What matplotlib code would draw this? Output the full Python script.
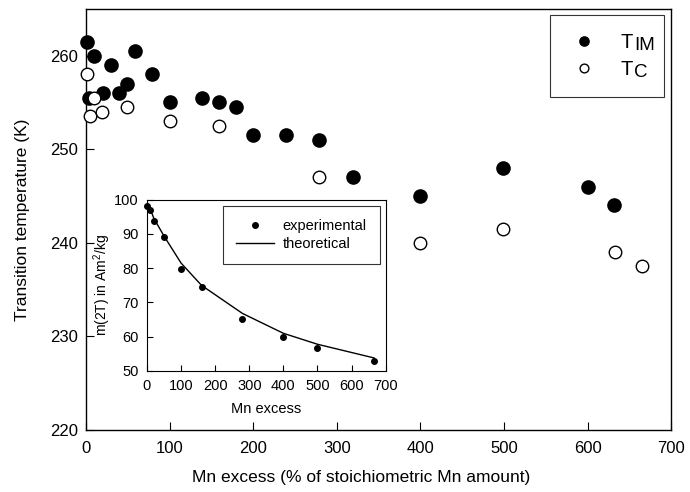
import matplotlib
matplotlib.use("Agg")
import matplotlib.pyplot as plt

plt.rcParams['font.family'] = ['Liberation Sans', 'DejaVu Sans']
plt.rcParams['mathtext.fontset'] = 'custom'
plt.rcParams['mathtext.rm'] = 'Liberation Sans'

# main panel data
tim_x = [1, 3.6, 10, 20, 30, 40, 49, 59, 79, 100, 139, 159, 179, 200, 239, 279, 319, 400, 499, 600, 632]
tim_y = [261.5, 255.5, 260.0, 256.0, 259.0, 256.0, 257.0, 260.5, 258.0, 255.0, 255.5, 255.0, 254.5,
         251.5, 251.5, 251.0, 247.0, 245.0, 248.0, 246.0, 244.0]
tc_x = [1, 4.4, 9.6, 19.5, 49, 100, 159, 279, 400, 499, 633, 665]
tc_y = [258.0, 253.5, 255.5, 254.0, 254.5, 253.0, 252.5, 247.0, 240.0, 241.5, 239.0, 237.5]
subscripts = ['IM', 'C']

# inset data
exp_x = [1, 10, 20, 50, 100, 160, 280, 400, 500, 666]
exp_y = [98.3, 97.1, 93.8, 89.0, 79.8, 74.5, 65.2, 59.9, 56.6, 52.8]
th_x = [0, 10, 20, 50, 100, 160, 280, 400, 500, 666]
th_y = [99.3, 97.2, 94.6, 89.4, 81.5, 75.0, 66.8, 61.0, 57.8, 53.8]

fig = plt.figure(figsize=(6.9, 4.92), dpi=100)
ax = fig.add_axes([0.1246, 0.126, 0.848, 0.856])

ax.plot(tim_x, tim_y, 'o', color='black', markersize=9.5, label='T', clip_on=False, zorder=3)
ax.plot(tc_x, tc_y, 'o', markerfacecolor='white', markeredgecolor='black', markeredgewidth=1.0,
        markersize=9, label='T', clip_on=False, zorder=3)

ax.set_xlim(0, 700)
ax.set_ylim(220, 265)
ax.set_xticks(range(0, 701, 100))
ax.set_yticks([220, 230, 240, 250, 260])
ax.tick_params(direction='in', labelsize=12, length=6, top=False, right=False)
ax.tick_params(axis='x', pad=8)
ax.tick_params(axis='y', pad=6)
ax.set_xlabel('Mn excess (% of stoichiometric Mn amount)', fontsize=12.5, labelpad=6)
ax.xaxis.set_label_coords(0.47, -0.095)
ax.set_ylabel('Transition temperature (K)', fontsize=12.5, labelpad=14)
for s in ax.spines.values():
    s.set_linewidth(1.0)

# legend box stretched to the reference width; subscripts added after drawing
leg = ax.legend(loc='upper left', bbox_to_anchor=(0.793, 0.5, 0.195, 0.486), mode='expand',
                fontsize=14.5, markerscale=0.7, frameon=True, fancybox=False,
                edgecolor='black', borderaxespad=0, handletextpad=1.0, labelspacing=0.4,
                borderpad=0.9, handlelength=1.6)
leg.get_frame().set_linewidth(0.8)

# inset
ins = fig.add_axes([0.213, 0.246, 0.346, 0.348])
ins.plot(th_x, th_y, '-', color='black', linewidth=1.0, label='theoretical')
ins.plot(exp_x, exp_y, 'o', color='black', markersize=4, label='experimental', clip_on=False)
ins.set_xlim(0, 700)
ins.set_ylim(50, 100)
ins.set_xticks(range(0, 701, 100))
ins.set_yticks(range(50, 101, 10))
ins.tick_params(direction='in', labelsize=10.5, length=4, pad=6)
ins.set_xlabel('Mn excess', fontsize=10.5, labelpad=6)
ins.set_ylabel('m(2T) in Am$^{2}$/kg', fontsize=10, labelpad=1)
h, l = ins.get_legend_handles_labels()
leg2 = ins.legend(h[::-1], l[::-1], loc='upper right', fontsize=10.5, frameon=True, fancybox=False,
                  edgecolor='black', handlelength=2.6, handletextpad=0.6, borderpad=0.9,
                  labelspacing=0.3, borderaxespad=0.4)
leg2.get_frame().set_linewidth(0.8)

fig.canvas.draw()
W, H = fig.canvas.get_width_height()
r = fig.canvas.get_renderer()
for t, sub in zip(leg.get_texts(), subscripts):
    bb = t.get_window_extent(renderer=r)
    fig.text((bb.x1 + 1) / W, (bb.y0 - 2) / H, sub, fontsize=13.5, ha='left', va='bottom')

fig.savefig('out.png', dpi=100)
